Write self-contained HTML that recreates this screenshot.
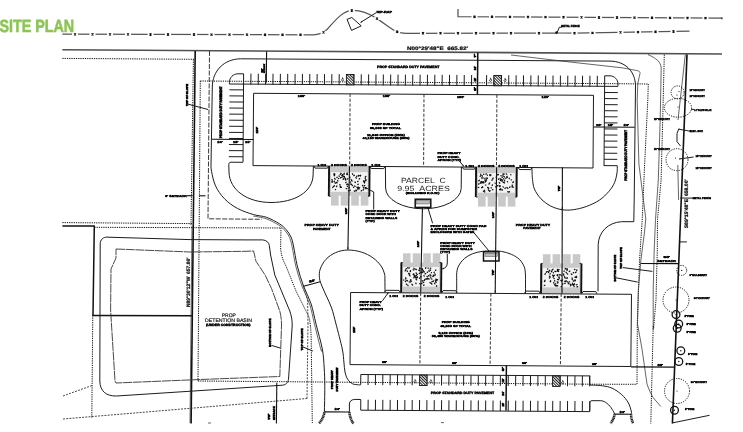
<!DOCTYPE html>
<html lang="en">
<head>
<meta charset="utf-8">
<title>Site Plan</title>
<style>
html,body{margin:0;padding:0;background:#fff;}
body{width:743px;height:432px;overflow:hidden;font-family:"Liberation Sans",sans-serif;}
svg{display:block;will-change:transform;}
text{font-family:"Liberation Sans",sans-serif;text-rendering:geometricPrecision;}
.ttl{font-family:"Liberation Sans",sans-serif;font-weight:700;}
.t{fill:#000;font-weight:700;stroke:#000;stroke-width:1.6;}
.r{stroke-width:2.4;}
.w{fill:#fff;stroke:none;}
.n{font-weight:700;stroke:#111;stroke-width:.9;}
.p{font-weight:400;fill:#222;stroke:none;}
.p2{font-weight:400;fill:#111;stroke:#111;stroke-width:.7;}
.l{fill:none;stroke:#1c1c1c;stroke-width:1;}
.thin{fill:none;stroke:#333;stroke-width:.75;}
.m{fill:none;stroke:#111;stroke-width:1.1;}
.b{fill:none;stroke:#505050;stroke-width:1.6;}
.k{fill:none;stroke:#111;stroke-width:1.6;}
.k2{fill:none;stroke:#111;stroke-width:1.5;}
.g{fill:none;stroke:#555;stroke-width:1.25;}
.x{fill:none;stroke:#111;stroke-width:1.25;}
.a{fill:#111;stroke:none;}
.dot{fill:#111;stroke:none;}
.dt{fill:none;stroke:#111;stroke-width:1;stroke-dasharray:1.25 1;}
.ds{fill:none;stroke:#222;stroke-width:.9;stroke-dasharray:5 1.5;}
.ds3{fill:none;stroke:#222;stroke-width:.9;stroke-dasharray:2.6 1;}
.ds2{fill:none;stroke:#333;stroke-width:.9;stroke-dasharray:2 1.2;}
.dd{fill:none;stroke:#222;stroke-width:.9;stroke-dasharray:3.2 1.6;}
.ddv{fill:none;stroke:#333;stroke-width:.9;stroke-dasharray:6 1 1 1;}
.bi{fill:none;stroke:#333;stroke-width:.9;stroke-dasharray:9 .7;}
.hb{fill:none;stroke:#222;stroke-width:2.6;stroke-dasharray:1.2 .4;}
.hc{fill:none;stroke:#111;stroke-width:.8;}
.ring{fill:none;stroke:#111;stroke-width:1.3;}
.dc{fill:none;stroke:#111;stroke-width:1;stroke-dasharray:1.2 1.2;}
.tr{fill:#c9c9c9;stroke:none;}
.st{fill:#f4f4f4;stroke:none;}
.st2{fill:#bbb;stroke:#333;stroke-width:.4;}
.sp{fill:none;stroke:#111;stroke-width:1.25;stroke-linecap:round;}
.kw{fill:none;stroke:#111;stroke-width:1.9;}
</style>
</head>
<body>
<svg width="743" height="432" viewBox="0 0 743 432">
<defs>
<pattern id="hz" width="2" height="2" patternUnits="userSpaceOnUse" patternTransform="rotate(-45)">
<rect width="2" height="2" fill="#fff"/><rect width="1" height="2" fill="#222"/>
</pattern>
</defs>
<rect width="743" height="432" fill="#fff"/>
<text x="-0.6" y="31.8" font-size="17.6" font-weight="700" fill="#8cc455" stroke="#8cc455" stroke-width="0.55" textLength="74.8" lengthAdjust="spacingAndGlyphs" class="ttl">SITE PLAN</text>
<path class="g" d="M62.4,34.2 L313,34.8 C319,34.7 323.5,33 327,29.5 C334,22 342,11 351.8,10.4 C361,10 369,13.5 377,18.6 C386,24.5 392,30 397.2,31.8 C400,32.8 403,33.2 406,33.3 L557,33.0"/>
<rect class="w" x="72" y="32.83" width="6" height="3"/>
<path class="x" d="M74,33.33L76,35.33M74,35.33L76,33.33"/>
<rect class="w" x="89.5" y="32.86" width="6" height="3"/>
<path class="x" d="M91.5,33.36L93.5,35.36M91.5,35.36L93.5,33.36"/>
<rect class="w" x="107" y="32.9" width="6" height="3"/>
<path class="x" d="M109,33.4L111,35.4M109,35.4L111,33.4"/>
<rect class="w" x="125" y="32.93" width="6" height="3"/>
<path class="x" d="M127,33.43L129,35.43M127,35.43L129,33.43"/>
<rect class="w" x="147.5" y="32.98" width="6" height="3"/>
<path class="x" d="M149.5,33.48L151.5,35.48M149.5,35.48L151.5,33.48"/>
<rect class="w" x="165" y="33.01" width="6" height="3"/>
<path class="x" d="M167,33.51L169,35.51M167,35.51L169,33.51"/>
<rect class="w" x="191" y="33.06" width="6" height="3"/>
<path class="x" d="M193,33.56L195,35.56M193,35.56L195,33.56"/>
<rect class="w" x="208.5" y="33.1" width="6" height="3"/>
<path class="x" d="M210.5,33.6L212.5,35.6M210.5,35.6L212.5,33.6"/>
<rect class="w" x="226.5" y="33.13" width="6" height="3"/>
<path class="x" d="M228.5,33.63L230.5,35.63M228.5,35.63L230.5,33.63"/>
<rect class="w" x="244" y="33.17" width="6" height="3"/>
<path class="x" d="M246,33.67L248,35.67M246,35.67L248,33.67"/>
<rect class="w" x="262" y="33.21" width="6" height="3"/>
<path class="x" d="M264,33.71L266,35.71M264,35.71L266,33.71"/>
<rect class="w" x="279.5" y="33.24" width="6" height="3"/>
<path class="x" d="M281.5,33.74L283.5,35.74M281.5,35.74L283.5,33.74"/>
<rect class="w" x="297.5" y="33.28" width="6" height="3"/>
<path class="x" d="M299.5,33.78L301.5,35.78M299.5,35.78L301.5,33.78"/>
<rect class="w" x="320.5" y="30.9" width="6" height="3"/>
<path class="x" d="M322.5,31.4L324.5,33.4M322.5,33.4L324.5,31.4"/>
<rect class="w" x="348.8" y="9" width="6" height="3"/>
<path class="x" d="M350.8,9.5L352.8,11.5M350.8,11.5L352.8,9.5"/>
<rect class="w" x="374" y="17.1" width="6" height="3"/>
<path class="x" d="M376,17.6L378,19.6M376,19.6L378,17.6"/>
<rect class="w" x="394.2" y="30.2" width="6" height="3"/>
<path class="x" d="M396.2,30.7L398.2,32.7M396.2,32.7L398.2,30.7"/>
<rect class="w" x="420" y="31.7" width="6" height="3"/>
<path class="x" d="M422,32.2L424,34.2M422,34.2L424,32.2"/>
<rect class="w" x="437.5" y="31.7" width="6" height="3"/>
<path class="x" d="M439.5,32.2L441.5,34.2M439.5,34.2L441.5,32.2"/>
<rect class="w" x="455" y="31.7" width="6" height="3"/>
<path class="x" d="M457,32.2L459,34.2M457,34.2L459,32.2"/>
<rect class="w" x="473" y="31.7" width="6" height="3"/>
<path class="x" d="M475,32.2L477,34.2M475,34.2L477,32.2"/>
<rect class="w" x="490.5" y="31.7" width="6" height="3"/>
<path class="x" d="M492.5,32.2L494.5,34.2M492.5,34.2L494.5,32.2"/>
<rect class="w" x="508" y="31.7" width="6" height="3"/>
<path class="x" d="M510,32.2L512,34.2M510,34.2L512,32.2"/>
<rect class="w" x="536" y="31.7" width="6" height="3"/>
<path class="x" d="M538,32.2L540,34.2M538,34.2L540,32.2"/>
<path class="l" d="M347,19.4 L351.8,17.5 L361.2,25.9 L351.5,30.4 Z"/>
<line class="l" x1="360.6" y1="22.4" x2="376" y2="12.8"/>
<polygon class="a" points="360.2,22.7 361.74,21.01 362.39,22.06"/>
<text class="t" font-size="12" textLength="62" lengthAdjust="spacingAndGlyphs" transform="translate(376.5 13) scale(.25)">RIP-RAP</text>
<path class="g" d="M557,33 L575,33.2 L689.5,31.2"/>
<rect class="w" x="571.5" y="31.71" width="6" height="3"/>
<path class="x" d="M573.5,32.21L575.5,34.21M573.5,34.21L575.5,32.21"/>
<rect class="w" x="589.5" y="31.39" width="6" height="3"/>
<path class="x" d="M591.5,31.89L593.5,33.89M591.5,33.89L593.5,31.89"/>
<rect class="w" x="617.5" y="30.9" width="6" height="3"/>
<path class="x" d="M619.5,31.4L621.5,33.4M619.5,33.4L621.5,31.4"/>
<rect class="w" x="635" y="30.6" width="6" height="3"/>
<path class="x" d="M637,31.1L639,33.1M637,33.1L639,31.1"/>
<rect class="w" x="652.5" y="30.29" width="6" height="3"/>
<path class="x" d="M654.5,30.79L656.5,32.79M654.5,32.79L656.5,30.79"/>
<rect class="w" x="670.5" y="29.98" width="6" height="3"/>
<path class="x" d="M672.5,30.48L674.5,32.48M672.5,32.48L674.5,30.48"/>
<circle class="dot" cx="556.6" cy="32.6" r="1.3"/>
<path class="l" d="M557,33 L559.3,27.3 L562,27"/>
<text class="t" font-size="11.6" textLength="74" lengthAdjust="spacingAndGlyphs" transform="translate(561.3 27) scale(.25)">METAL FENCE</text>
<path class="g" d="M458,9 L458,16.6 L722,18.2"/>
<rect class="w" x="471.5" y="15.2" width="6" height="3"/>
<path class="x" d="M473.5,15.7L475.5,17.7M473.5,17.7L475.5,15.7"/>
<rect class="w" x="489" y="15.3" width="6" height="3"/>
<path class="x" d="M491,15.8L493,17.8M491,17.8L493,15.8"/>
<rect class="w" x="507" y="15.41" width="6" height="3"/>
<path class="x" d="M509,15.91L511,17.91M509,17.91L511,15.91"/>
<rect class="w" x="525" y="15.52" width="6" height="3"/>
<path class="x" d="M527,16.02L529,18.02M527,18.02L529,16.02"/>
<rect class="w" x="542.5" y="15.62" width="6" height="3"/>
<path class="x" d="M544.5,16.12L546.5,18.12M544.5,18.12L546.5,16.12"/>
<rect class="w" x="560.5" y="15.73" width="6" height="3"/>
<path class="x" d="M562.5,16.23L564.5,18.23M562.5,18.23L564.5,16.23"/>
<rect class="w" x="578.5" y="15.84" width="6" height="3"/>
<path class="x" d="M580.5,16.34L582.5,18.34M580.5,18.34L582.5,16.34"/>
<rect class="w" x="596" y="15.95" width="6" height="3"/>
<path class="x" d="M598,16.45L600,18.45M598,18.45L600,16.45"/>
<rect class="w" x="614" y="16.05" width="6" height="3"/>
<path class="x" d="M616,16.55L618,18.55M616,18.55L618,16.55"/>
<rect class="w" x="631.5" y="16.16" width="6" height="3"/>
<path class="x" d="M633.5,16.66L635.5,18.66M633.5,18.66L635.5,16.66"/>
<rect class="w" x="649" y="16.26" width="6" height="3"/>
<path class="x" d="M651,16.76L653,18.76M651,18.76L653,16.76"/>
<rect class="w" x="667" y="16.37" width="6" height="3"/>
<path class="x" d="M669,16.87L671,18.87M669,18.87L671,16.87"/>
<rect class="w" x="684.5" y="16.48" width="6" height="3"/>
<path class="x" d="M686.5,16.98L688.5,18.98M686.5,18.98L688.5,16.98"/>
<rect class="w" x="702.5" y="16.59" width="6" height="3"/>
<path class="x" d="M704.5,17.09L706.5,19.09M704.5,19.09L706.5,17.09"/>
<line class="l" x1="722" y1="17.2" x2="722" y2="19.3"/>
<line class="b" x1="62.4" y1="49.8" x2="722" y2="54"/>
<text class="t n" font-size="20" textLength="244" lengthAdjust="spacingAndGlyphs" transform="translate(407 50.4) scale(.25)">N00°29'48&quot;E  665.82'</text>
<line class="dt" x1="62.4" y1="58.4" x2="194" y2="59.3"/>
<line class="k" x1="195.2" y1="51" x2="191.1" y2="423.5"/>
<line class="dt" x1="193.4" y1="59.3" x2="191" y2="226"/>
<line class="thin" x1="192" y1="226" x2="190" y2="423"/>
<path class="ds" d="M209.5,51 L208.0,218.8 L261.7,219.3"/>
<line class="dt" x1="200.3" y1="81" x2="198" y2="381"/>
<line class="dt" x1="200.3" y1="81" x2="617" y2="83.7"/>
<line class="dt" x1="617" y1="83.7" x2="648.3" y2="84"/>
<path class="dt" d="M648.3,84 L647.8,100 L644.4,169.4 L642.2,220 L639.5,261 L637.3,324 L637,384"/>
<line class="dt" x1="198" y1="381" x2="589.5" y2="384.2"/>
<line class="dt" x1="589.5" y1="384.2" x2="637" y2="384.3"/>
<line class="dt" x1="62.4" y1="222.6" x2="192.5" y2="223.6"/>
<line class="dt" x1="94.3" y1="227.3" x2="281" y2="228"/>
<line class="k2" x1="62.4" y1="226" x2="94.9" y2="226.1"/>
<line class="k2" x1="94.3" y1="226.1" x2="93" y2="315.6"/>
<line class="k2" x1="92.4" y1="315.6" x2="191.8" y2="315.7"/>
<line class="dt" x1="92.8" y1="315.3" x2="91.8" y2="417.6"/>
<line class="ds2" x1="63" y1="396" x2="92" y2="385.5"/>
<line class="ds2" x1="63" y1="419" x2="307" y2="398.5"/>
<line class="ds2" x1="307" y1="398.5" x2="308" y2="324"/>
<path class="ds2" d="M308,324 L307.6,300 L303,285"/>
<path class="dt" d="M281,227.8 L280.6,248 C281.5,258 284,262 286,266 L296,291 L308.5,316 C310.5,322 311,330 311.2,340 L312.3,423"/>
<path class="l" d="M108,237.2 L190,239.6 L246,239.9 L262.7,239.9 C266.5,240.2 269,242.5 269.3,245.6 L270.6,255 L274.8,275 L289.8,311 C291.5,316 292.3,320 292.2,326 L288.6,378 C288.3,383 286,385.2 281,385.3 L186,391.5 L116.5,396 C106,396.3 100,391 99.8,381 L100.2,244 C100.3,239.5 103,237 108,237 Z"/>
<path class="bi" d="M116,249 L190,252 L246,251.3 L253.6,251 L256,261.3 L265.1,275 L271.5,288.5 L279.8,311 C281,316 281.6,320 281.5,326 L279.8,376.5 L198,379.6 L116,383 L115,381 L110.6,310 L111,269 L116,258 Z"/>
<text class="t p2" font-size="20.4" text-anchor="middle" textLength="56" lengthAdjust="spacingAndGlyphs" transform="translate(228.8 316.7) scale(.25)">PROP</text>
<text class="t p2" font-size="20.4" text-anchor="middle" textLength="188" lengthAdjust="spacingAndGlyphs" transform="translate(228.5 321.9) scale(.25)">DETENTION BASIN</text>
<text class="t" font-size="12.8" text-anchor="middle" textLength="178" lengthAdjust="spacingAndGlyphs" transform="translate(228.2 325.6) scale(.25)">(UNDER CONSTRUCTION)</text>
<text class="t n" font-size="20" textLength="197.6" lengthAdjust="spacingAndGlyphs" transform="translate(190 307) rotate(-90) scale(.25)">N89°30'12&quot;W  657.86'</text>
<text class="t r" font-size="11.2" textLength="113.6" lengthAdjust="spacingAndGlyphs" transform="translate(270.8 347) rotate(-90) scale(.25)">BOTTOM OF SLOPE</text>
<line class="l" x1="271.5" y1="345.4" x2="280.4" y2="348.1"/>
<text class="t r" font-size="11.2" textLength="88" lengthAdjust="spacingAndGlyphs" transform="translate(302.5 350.4) rotate(-90) scale(.25)">TOP OF SLOPE</text>
<line class="l" x1="303" y1="347" x2="312.9" y2="351"/>
<line class="m" x1="276.8" y1="382.8" x2="276.4" y2="423.5"/>
<text class="t r" font-size="11.2" textLength="24" lengthAdjust="spacingAndGlyphs" transform="translate(269.8 419.7) rotate(-90) scale(.25)">75'</text>
<text class="t r" font-size="11.2" textLength="55.2" lengthAdjust="spacingAndGlyphs" transform="translate(274.9 420.1) rotate(-90) scale(.25)">SETBACK</text>
<text class="t r" font-size="10.8" textLength="88" lengthAdjust="spacingAndGlyphs" transform="translate(188.4 106) rotate(-90) scale(.25)">TOP OF SLOPE</text>
<line class="l" x1="187.5" y1="104" x2="208" y2="109.5"/>
<text class="t" font-size="11.2" textLength="86" lengthAdjust="spacingAndGlyphs" transform="translate(165.3 196.7) scale(.25)">5' SETBACK</text>
<line class="m" x1="187" y1="195.7" x2="192.6" y2="195.7"/>
<line class="m" x1="199.3" y1="195.8" x2="205.5" y2="195.8"/>
<path class="l" d="M610,61.1 L240.7,58.8 C224,58.9 212.4,71 212.3,87 L211,165"/>
<path class="hb" d="M324.4,412.2 C323.8,416.5 321.8,420.5 318.8,423.5"/>
<path class="l" d="M211,165 C211.08,166.03 210.75,167.73 211.5,171.2 C212.25,174.67 213.35,181.22 215.5,185.8 C217.65,190.38 220.75,194.93 224.4,198.7 C228.05,202.47 232.53,205.75 237.4,208.4 C242.27,211.05 248.75,213.12 253.6,214.6 C258.45,216.08 262.18,215.77 266.5,217.3 C270.82,218.83 276.2,221.72 279.5,223.8 C282.8,225.88 284.38,227.6 286.3,229.8 C288.22,232 289.8,234.3 291,237 C292.2,239.7 292.45,241.17 293.5,246 C294.55,250.83 295.63,259.33 297.3,266 C298.97,272.67 301.22,279.75 303.5,286 C305.78,292.25 308.92,297.17 311,303.5 C313.08,309.83 314.12,316.42 316,324 C317.88,331.58 320.93,341.67 322.3,349 C323.67,356.33 323.78,361.75 324.2,368 C324.62,374.25 324.77,379.17 324.8,386.5 C324.83,393.83 324.47,407.75 324.4,412"/>
<path class="thin" d="M253.29,216.07 C255.41,216.51 261.76,217.21 266,218.71 C270.23,220.21 275.5,223.06 278.7,225.07 C281.89,227.08 283.35,228.7 285.17,230.79 C286.99,232.88 288.49,235.02 289.63,237.61 C290.77,240.2 291,241.53 292.03,246.32 C293.07,251.11 294.17,259.66 295.84,266.36 C297.52,273.06 299.8,280.25 302.09,286.51 C304.38,292.78 307.5,297.66 309.58,303.97 C311.65,310.28 312.67,316.8 314.54,324.36 C316.42,331.93 319.6,345.18 320.85,349.37 C322.09,353.56 321.81,349.48 322,349.5"/>
<path class="l" d="M610,61.1 C626,61.3 635.4,72 635.5,86 L634.2,200 L633.8,221.7 L621.5,221.7 C608,222.5 598.6,232 598.2,244.7 L598,291.3"/>
<path class="thin" d="M511,55 L570,62 L622,67.8 L636.7,70.5 C639.5,71 640.3,72 640,73.5 L637.8,83.3 L637.2,100 L638.9,164 L645.8,219 L644.5,232 L640.8,261 L638.3,291 L637.5,324 L642,349 L647,384 C649,390 651,394 653.3,397.8 L660.8,406.5"/>
<path class="l" d="M243.0,162 L243.6,73.8 L238,73.8 C233,73.9 229.5,77.5 229.4,82.5 L229.4,84"/>
<path class="l" d="M604.0,166 L604.7,75.8 L610,75.8 C614.5,76 618,79.5 618,84 L618,86.1"/>
<line class="l" x1="229.4" y1="84" x2="618" y2="86.4"/>
<line class="l" x1="250.95" y1="73.65" x2="250.86" y2="84.55"/>
<line class="l" x1="258.31" y1="73.69" x2="258.22" y2="84.59"/>
<line class="l" x1="265.67" y1="73.74" x2="265.58" y2="84.64"/>
<line class="l" x1="273.02" y1="73.78" x2="272.93" y2="84.68"/>
<line class="l" x1="280.38" y1="73.83" x2="280.29" y2="84.73"/>
<line class="l" x1="287.73" y1="73.87" x2="287.64" y2="84.77"/>
<line class="l" x1="295.08" y1="73.92" x2="295" y2="84.82"/>
<line class="l" x1="302.44" y1="73.96" x2="302.35" y2="84.86"/>
<line class="l" x1="309.8" y1="74.01" x2="309.71" y2="84.91"/>
<line class="l" x1="317.15" y1="74.06" x2="317.06" y2="84.96"/>
<line class="l" x1="324.5" y1="74.1" x2="324.42" y2="85"/>
<line class="l" x1="331.86" y1="74.15" x2="331.77" y2="85.05"/>
<line class="l" x1="339.22" y1="74.19" x2="339.13" y2="85.09"/>
<line class="l" x1="353.93" y1="74.28" x2="353.84" y2="85.18"/>
<line class="l" x1="361.28" y1="74.33" x2="361.19" y2="85.23"/>
<line class="l" x1="368.63" y1="74.38" x2="368.55" y2="85.28"/>
<line class="l" x1="375.99" y1="74.42" x2="375.9" y2="85.32"/>
<line class="l" x1="383.35" y1="74.47" x2="383.26" y2="85.37"/>
<line class="l" x1="390.7" y1="74.51" x2="390.61" y2="85.41"/>
<line class="l" x1="398.06" y1="74.56" x2="397.97" y2="85.46"/>
<line class="l" x1="405.41" y1="74.6" x2="405.32" y2="85.5"/>
<line class="l" x1="412.76" y1="74.65" x2="412.68" y2="85.55"/>
<line class="l" x1="420.12" y1="74.69" x2="420.03" y2="85.59"/>
<line class="l" x1="427.48" y1="74.74" x2="427.39" y2="85.64"/>
<line class="l" x1="434.83" y1="74.79" x2="434.74" y2="85.69"/>
<line class="l" x1="442.19" y1="74.83" x2="442.1" y2="85.73"/>
<line class="l" x1="449.54" y1="74.88" x2="449.45" y2="85.78"/>
<line class="l" x1="456.89" y1="74.92" x2="456.81" y2="85.82"/>
<line class="l" x1="464.25" y1="74.97" x2="464.16" y2="85.87"/>
<line class="l" x1="471.61" y1="75.01" x2="471.52" y2="85.91"/>
<line class="l" x1="597.32" y1="75.79" x2="597.23" y2="86.69"/>
<line class="l" x1="589.94" y1="75.75" x2="589.85" y2="86.65"/>
<line class="l" x1="582.56" y1="75.7" x2="582.47" y2="86.6"/>
<line class="l" x1="575.18" y1="75.66" x2="575.09" y2="86.56"/>
<line class="l" x1="567.8" y1="75.61" x2="567.71" y2="86.51"/>
<line class="l" x1="560.42" y1="75.56" x2="560.33" y2="86.46"/>
<line class="l" x1="553.04" y1="75.52" x2="552.95" y2="86.42"/>
<line class="l" x1="545.66" y1="75.47" x2="545.57" y2="86.37"/>
<line class="l" x1="538.28" y1="75.43" x2="538.19" y2="86.33"/>
<line class="l" x1="530.9" y1="75.38" x2="530.81" y2="86.28"/>
<line class="l" x1="523.52" y1="75.34" x2="523.43" y2="86.24"/>
<line class="l" x1="516.14" y1="75.29" x2="516.05" y2="86.19"/>
<line class="l" x1="508.76" y1="75.24" x2="508.67" y2="86.14"/>
<line class="l" x1="501.38" y1="75.2" x2="501.29" y2="86.1"/>
<line class="l" x1="494" y1="75.15" x2="493.91" y2="86.05"/>
<line class="l" x1="486.62" y1="75.11" x2="486.53" y2="86.01"/>
<rect x="346.4" y="74.53" width="7.4" height="10.3" fill="url(#hz)" stroke="#111" stroke-width="0.9"/>
<rect x="494" y="75.45" width="7.4" height="10.3" fill="url(#hz)" stroke="#111" stroke-width="0.9"/>
<path class="hc" d="M342.5,77.4v1.6h1.3M341.9,79.2a1,1 0 1 0 1.6,0.6"/>
<path class="hc" d="M490.5,77.8v1.6h1.3M489.9,79.6a1,1 0 1 0 1.6,0.6"/>
<path class="hc" d="M505,77.9v1.6h1.3M504.4,79.7a1,1 0 1 0 1.6,0.6"/>
<line class="l" x1="229.44" y1="89.8" x2="243.54" y2="89.89"/>
<line class="l" x1="229.38" y1="95.88" x2="243.48" y2="95.97"/>
<line class="l" x1="229.33" y1="101.96" x2="243.43" y2="102.05"/>
<line class="l" x1="229.27" y1="108.04" x2="243.37" y2="108.13"/>
<line class="l" x1="229.22" y1="114.12" x2="243.32" y2="114.21"/>
<line class="l" x1="229.17" y1="120.2" x2="243.27" y2="120.29"/>
<line class="l" x1="229.11" y1="126.28" x2="243.21" y2="126.37"/>
<line class="l" x1="229.06" y1="132.36" x2="243.16" y2="132.45"/>
<line class="l" x1="229" y1="138.44" x2="243.1" y2="138.53"/>
<line class="l" x1="228.95" y1="144.52" x2="243.05" y2="144.61"/>
<line class="l" x1="228.89" y1="150.6" x2="242.99" y2="150.69"/>
<line class="l" x1="228.84" y1="156.68" x2="242.94" y2="156.77"/>
<line class="l" x1="604.61" y1="92.5" x2="617.81" y2="92.59"/>
<line class="l" x1="604.56" y1="98.57" x2="617.76" y2="98.66"/>
<line class="l" x1="604.51" y1="104.64" x2="617.71" y2="104.73"/>
<line class="l" x1="604.45" y1="110.71" x2="617.65" y2="110.8"/>
<line class="l" x1="604.4" y1="116.78" x2="617.6" y2="116.87"/>
<line class="l" x1="604.34" y1="122.85" x2="617.54" y2="122.94"/>
<line class="l" x1="604.29" y1="128.92" x2="617.49" y2="129.01"/>
<line class="l" x1="604.23" y1="134.99" x2="617.43" y2="135.08"/>
<line class="l" x1="604.18" y1="141.06" x2="617.38" y2="141.15"/>
<line class="l" x1="604.12" y1="147.13" x2="617.32" y2="147.22"/>
<line class="l" x1="604.07" y1="153.2" x2="617.27" y2="153.29"/>
<line class="l" x1="604.01" y1="159.27" x2="617.21" y2="159.36"/>
<line class="l" x1="604" y1="165.6" x2="617.2" y2="165.7"/>
<path class="l" d="M243,162.3 L231,162.2 C229.5,162.3 228.8,163 228.8,164.5 L229,172 C229.5,190 247,202.4 271,202.5 C295,202.4 312.6,192 313.1,175 L313.4,166"/>
<path class="l" d="M532,167.3 C532.02,168.25 532.02,171 532.1,173 C532.18,175 532.12,176.63 532.5,179.3 C532.88,181.97 533,185.77 534.4,189 C535.8,192.23 538.2,195.87 540.9,198.7 C543.6,201.53 547.08,204.17 550.6,206 C554.12,207.83 558.22,209.08 562,209.7 C565.78,210.32 569.25,210.23 573.3,209.7 C577.35,209.17 581.98,208.07 586.3,206.5 C590.62,204.93 595.43,202.82 599.2,200.3 C602.97,197.78 606.33,194.37 608.9,191.4 C611.47,188.43 613.25,185.6 614.6,182.5 C615.95,179.4 616.55,175.62 617,172.8 C617.45,169.98 617.25,166.8 617.3,165.6"/>
<line class="m" x1="212" y1="139.2" x2="253.5" y2="139.5"/>
<text class="t" font-size="11.2" text-anchor="middle" textLength="22" lengthAdjust="spacingAndGlyphs" transform="translate(220 143.2) scale(.25)">24'</text>
<text class="t" font-size="11.2" text-anchor="middle" textLength="22" lengthAdjust="spacingAndGlyphs" transform="translate(235.8 143.3) scale(.25)">18'</text>
<text class="t" font-size="11.2" text-anchor="middle" textLength="22" lengthAdjust="spacingAndGlyphs" transform="translate(247.7 143.4) scale(.25)">10'</text>
<line class="m" x1="593.3" y1="127" x2="634.7" y2="127.3"/>
<text class="t" font-size="11.2" text-anchor="middle" textLength="22" lengthAdjust="spacingAndGlyphs" transform="translate(598.8 125.5) scale(.25)">10'</text>
<text class="t" font-size="11.2" text-anchor="middle" textLength="22" lengthAdjust="spacingAndGlyphs" transform="translate(610.5 125.6) scale(.25)">18'</text>
<text class="t" font-size="11.2" text-anchor="middle" textLength="22" lengthAdjust="spacingAndGlyphs" transform="translate(626.2 125.7) scale(.25)">24'</text>
<line class="m" x1="266.6" y1="51.2" x2="266.3" y2="82.5"/>
<text class="t r" font-size="10" textLength="16" lengthAdjust="spacingAndGlyphs" transform="translate(262.6 72.5) rotate(-90) scale(.25)">30'</text>
<text class="t r" font-size="8.8" textLength="36" lengthAdjust="spacingAndGlyphs" transform="translate(265.2 73) rotate(-90) scale(.25)">SETBACK</text>
<text class="t r" font-size="14" textLength="207.2" lengthAdjust="spacingAndGlyphs" transform="translate(221.6 138.2) rotate(-90) scale(.25)">PROP STANDARD DUTY PAVEMENT</text>
<text class="t r" font-size="14" textLength="203.2" lengthAdjust="spacingAndGlyphs" transform="translate(627.3 180.8) rotate(-90) scale(.25)">PROP STANDARD DUTY PAVEMENT</text>
<text class="t" font-size="13.2" textLength="250" lengthAdjust="spacingAndGlyphs" transform="translate(377 68.3) scale(.25)">PROP STANDARD DUTY PAVEMENT</text>
<line class="k2" x1="477.8" y1="52.4" x2="477.4" y2="94.8"/>
<text class="t r" font-size="11.2" textLength="14.4" lengthAdjust="spacingAndGlyphs" transform="translate(475.6 57.5) rotate(-90) scale(.25)">7'</text>
<text class="t r" font-size="11.2" textLength="14.4" lengthAdjust="spacingAndGlyphs" transform="translate(475.6 70) rotate(-90) scale(.25)">24'</text>
<text class="t r" font-size="11.2" textLength="14.4" lengthAdjust="spacingAndGlyphs" transform="translate(475.6 81.5) rotate(-90) scale(.25)">18'</text>
<text class="t r" font-size="11.2" textLength="14.4" lengthAdjust="spacingAndGlyphs" transform="translate(475.6 90.8) rotate(-90) scale(.25)">8'</text>
<path class="l" d="M253.6,93.3 L593.5,95.3 L593.0,168.0 L253.0,165.6 Z"/>
<line class="dd" x1="350.1" y1="93.9" x2="349.7" y2="165.9"/>
<line class="dd" x1="424" y1="94.4" x2="423.6" y2="166.4"/>
<line class="dd" x1="496.9" y1="94.8" x2="496.5" y2="166.8"/>
<text class="t" font-size="11.2" text-anchor="middle" textLength="29.2" lengthAdjust="spacingAndGlyphs" transform="translate(301.5 96.61) scale(.25)">100'</text>
<text class="t" font-size="11.2" text-anchor="middle" textLength="29.2" lengthAdjust="spacingAndGlyphs" transform="translate(386.5 97.14) scale(.25)">100'</text>
<text class="t" font-size="11.2" text-anchor="middle" textLength="29.2" lengthAdjust="spacingAndGlyphs" transform="translate(460.6 97.6) scale(.25)">100'</text>
<text class="t" font-size="11.2" text-anchor="middle" textLength="29.2" lengthAdjust="spacingAndGlyphs" transform="translate(545.2 98.12) scale(.25)">120'</text>
<text class="t r" font-size="11.2" textLength="24.8" lengthAdjust="spacingAndGlyphs" transform="translate(258 133.2) rotate(-90) scale(.25)">150'</text>
<text class="t" font-size="11.2" text-anchor="middle" textLength="112" lengthAdjust="spacingAndGlyphs" transform="translate(385.9 125.4) scale(.25)">PROP BUILDING</text>
<text class="t" font-size="11.2" text-anchor="middle" textLength="124" lengthAdjust="spacingAndGlyphs" transform="translate(385.5 129.1) scale(.25)">55,000 SF TOTAL</text>
<text class="t" font-size="11.2" text-anchor="middle" textLength="150.8" lengthAdjust="spacingAndGlyphs" transform="translate(385.8 135.6) scale(.25)">11,040 OFFICE (20%)</text>
<text class="t" font-size="11.2" text-anchor="middle" textLength="188" lengthAdjust="spacingAndGlyphs" transform="translate(386 139.4) scale(.25)">44,160 WAREHOUSE (80%)</text>
<rect class="tr" x="331" y="166" width="7.6" height="39.6"/>
<rect class="tr" x="340.7" y="166" width="7.6" height="39.6"/>
<rect class="tr" x="351.2" y="166" width="7.6" height="39.6"/>
<rect class="tr" x="360.8" y="166" width="7.6" height="39.6"/>
<rect class="tr" x="329.9" y="166" width="38.9" height="29.7"/>
<rect class="st" x="331" y="172.2" width="36.7" height="19.6"/>
<path class="sp" d="M342.94,175.72l-0.49,-0.59M344.39,174.04l-0.4,0.15M334.12,174.63l-0.35,-0.67M351.73,180.14l-0.69,-0.43M341.75,175.6l0.17,-0.44M335.28,183.28l-0.21,-0.43M351.28,184.14l0.4,0.57M352.02,181.16l-0.28,-0.52M334.54,178.4l0.4,0.54M352.83,174.32l-0.41,-0.55M364.08,180.59l-0.68,0.56M343.5,179.3l0.4,-0.14M364.48,181.53l-0.5,0.54M354.16,190.88l0.59,0.53M332.48,181.31l-0.2,-0.4M358.36,175.33l0.25,0.65M334.5,181.09l-0.43,0.59M356.21,190.76l0.51,-0.67M334.58,175.72l-0.5,-0.39M340.82,173.07l0.35,0.47M364.77,185.43l-0.41,0.37M345.51,180.09l0.39,-0.14M365.87,180.93l-0.17,-0.16M350.32,190.08l-0.47,0.62M336.85,177.54l0.31,-0.38M361.16,190.88l0.38,-0.29M335.25,179.17l-0.26,-0.41M364.7,182.51l-0.19,0.55M365.65,188.54l0.52,-0.41M344.04,177.01l0.42,-0.48M359.67,187.73l-0.54,0.22M344.04,173.52l0.12,-0.38M355.73,190.22l0.37,0.67M334.49,174.84l0.38,-0.22M348.34,184.75l-0.58,-0.6M363.27,187.08l0.55,0.63M359.08,178.99l0.58,-0.38M356.85,176.06l-0.18,0.45M359.69,175.63l0.6,0.49M337.11,182.87l-0.11,-0.42M346.75,188.69l-0.6,-0.12M341.87,177.33l0.45,-0.43M333.81,186.32l0.64,-0.6M350.15,182.42l0.11,-0.57M358.63,175.7l-0.18,0.43M355.38,182.55l-0.39,-0.63M340.32,177.98l0.56,-0.44M347.08,184.03l-0.4,0.52M349.33,187.53l-0.4,0.52M363.72,189.07l0.22,-0.18M345.32,178.69l0.5,0.14M358.9,189.15l0.19,-0.19M365.27,176.95l0.67,-0.63M366.05,187.98l0.2,0.7M343.47,176.52l0.29,0.11M346.98,173.33l0.3,-0.41M335.62,189.53l-0.24,0.15M333.07,187.02l-0.26,0.59M345.79,182.66l0.41,-0.52M341.38,187.39l-0.21,-0.26M353.72,187.43l-0.15,-0.14M347.45,179.1l0.43,-0.47M349.98,177.29l-0.17,-0.26M338.7,178.62l-0.28,-0.27M341.09,187.47l-0.7,-0.11M349.54,177.42l0.37,0.49M365.37,178.54l-0.23,-0.31M345.74,179.26l-0.13,0.11M346.65,174l0.5,0.62M352.48,185.47l-0.13,0.19M331.83,179.55l0.3,0.25M339.26,176.29l-0.3,-0.38M340.31,186.97l-0.15,-0.19M345.37,178.39l-0.48,-0.45M354.52,185.89l0.63,0.56M336.89,186.03l-0.49,0.59M357.16,187.62l-0.18,-0.6M334.65,173.75l-0.48,0.33M351.08,184.3l-0.48,-0.39M347.56,174.26l-0.66,-0.5M357.58,181.53l0.59,-0.24M339.71,184.7l0.38,0.15M358.31,184.11l-0.49,0.46M340.51,186.38l-0.28,-0.11M348.56,190.51l-0.16,0.51M356.3,178.14l-0.38,-0.7M342.52,174.55l0.38,0.38M366.19,179.96l-0.65,-0.14M336.62,182.43l-0.67,0.46M362.47,185.66l0.24,-0.34M331.82,181.85l0.37,0.54M343.64,178.69l-0.6,0.29M360.82,175.16l-0.66,0.64M340.49,174.17l-0.33,0.32M357.92,188.38l-0.27,0.6M353.73,175.68l0.68,-0.41M358.53,187.13l-0.36,0.59M363.4,189.93l-0.43,0.13M347.34,186.55l0.49,-0.39M337.63,180.47l0.27,0.54"/>
<line class="kw" x1="329.1" y1="166" x2="328.83" y2="196.2"/>
<line class="kw" x1="369.6" y1="166" x2="369.33" y2="196.2"/>
<line class="l" x1="329.1" y1="196.2" x2="330.7" y2="196.2"/>
<line class="l" x1="369.6" y1="196.2" x2="368" y2="196.2"/>
<rect class="tr" x="478" y="166.9" width="7.6" height="39.7"/>
<rect class="tr" x="487.7" y="166.9" width="7.6" height="39.7"/>
<rect class="tr" x="498.2" y="166.9" width="7.6" height="39.7"/>
<rect class="tr" x="507.8" y="166.9" width="7.6" height="39.7"/>
<rect class="tr" x="476.9" y="166.9" width="39.1" height="29.7"/>
<rect class="st" x="478" y="173.1" width="36.9" height="19.6"/>
<path class="sp" d="M492.88,178.2l0.39,-0.17M481.32,182.91l-0.59,0.37M513.48,182l-0.18,-0.25M490.63,175.54l0.24,-0.59M509.67,187.39l0.35,-0.55M491.85,179.99l0.14,0.44M483.09,182.96l-0.48,-0.16M492.12,185.52l0.36,-0.61M483.14,181.55l0.56,0.68M478.71,180.95l0.66,-0.68M506.03,177.93l-0.19,0.66M481.67,187.88l-0.1,-0.24M501.23,179.37l0.18,0.42M503.08,175.92l-0.14,-0.33M506.29,173.92l0.42,0.27M501.2,189.81l-0.39,-0.43M512.23,186.58l-0.28,0.22M481.53,178l0.35,-0.24M502.98,186.83l0.32,0.22M504.5,182.99l-0.22,-0.29M486.76,177.89l0.56,0.17M499.99,190.04l-0.39,-0.67M510.88,174.88l-0.11,-0.35M485.13,181.99l0.53,-0.54M511.21,179.83l0.21,0.12M507.99,191.63l-0.37,0.1M481.52,181.46l-0.63,0.33M507.39,181.68l0.13,0.22M485.44,180.46l-0.64,-0.48M507.03,187.7l-0.12,-0.38M487.67,187.35l0.64,0.32M512.12,185.01l0.26,0.65M478.83,187.5l-0.65,-0.11M482.44,186.78l0.38,0.57M507.14,176.29l-0.4,0.58M507.41,187.81l0.46,0.62M491.33,187.98l-0.15,-0.34M487.33,175.07l0.12,0.2M509.53,191.68l-0.26,0.23M496.1,186.68l-0.37,0.18M500.35,186.03l-0.55,0.57M488.95,184.1l0.32,-0.22M485.18,178.14l-0.27,0.3M487.48,178.33l-0.42,-0.49M482.27,182.45l0.59,-0.65M509.3,178.09l-0.13,0.66M496.59,177.1l-0.46,0.16M486.3,180.54l-0.18,-0.7M499.62,185.63l-0.22,0.59M502.37,177.23l-0.29,0.12M497.83,175.04l0.16,-0.5M501.01,175.54l0.2,0.35M502.01,181.42l0.13,-0.35M508.86,191.84l-0.32,0.33M485.81,174.01l0.64,-0.17M492.88,189.79l-0.38,-0.18M497.95,185.43l-0.65,0.44M504.43,176.99l-0.31,-0.41M482.5,182.73l-0.58,-0.28M512.75,182.59l0.13,-0.15M501.05,189.32l-0.47,-0.6M498.43,174.65l-0.66,-0.33M483.92,191.37l-0.59,-0.12M502.01,179.74l0.33,0.43M501.35,179.45l0.25,0.5M496.27,177.12l0.1,0.38M505.35,187.94l-0.37,0.59M482.44,176.21l-0.36,-0.58M480.12,176.24l0.65,-0.57M480.59,182.97l-0.33,-0.12M513.46,187.08l-0.59,0.18M488.75,188.5l-0.58,0.14M500,178.44l0.29,0.64M483.71,182.94l-0.65,-0.46M489.84,174.56l-0.21,0.48M502.42,190.02l0.2,-0.17M500.91,180.38l-0.62,0.25M504.45,180.59l0.33,0.45M490.25,175.36l-0.24,0.28M489.52,191.29l0.62,-0.54M486.44,179.14l0.48,-0.41M483.31,177.99l-0.49,0.13M489.3,183.32l0.42,-0.45M485.83,185.13l-0.38,-0.11M503.39,182.02l-0.14,0.62M492.73,178.66l0.11,0.46M499.71,183.22l-0.4,-0.64M480.85,174.35l-0.21,-0.14M479.13,183.82l-0.66,0.35M507.09,177.04l0.29,0.48M503.67,174.01l0.61,0.15M484.82,191.84l-0.26,0.17M503.54,178.69l0.43,0.51M489.02,190.61l-0.64,-0.63M484.62,190.18l-0.61,0.67M485.4,180.9l0.46,0.64M495.18,183.45l-0.1,-0.36M498.6,179.44l-0.23,-0.44M483.75,174.38l-0.16,-0.31M503.16,174.46l-0.18,-0.52"/>
<line class="kw" x1="476.1" y1="166.9" x2="475.83" y2="197.1"/>
<line class="kw" x1="516.8" y1="166.9" x2="516.53" y2="197.1"/>
<line class="l" x1="476.1" y1="197.1" x2="477.7" y2="197.1"/>
<line class="l" x1="516.8" y1="197.1" x2="515.2" y2="197.1"/>
<rect class="tr" x="403" y="253.3" width="7.6" height="39.5"/>
<rect class="tr" x="412.7" y="253.3" width="7.6" height="39.5"/>
<rect class="tr" x="423.2" y="253.3" width="7.6" height="39.5"/>
<rect class="tr" x="432.8" y="253.3" width="7.6" height="39.5"/>
<rect class="tr" x="401.9" y="262.6" width="38.4" height="29.7"/>
<rect class="st" x="403" y="267" width="36.2" height="19.6"/>
<path class="sp" d="M405.95,278.43l-0.32,0.63M407.36,271.5l-0.17,-0.67M431.92,279.17l-0.27,-0.18M413.77,273.86l0.26,0.25M405.36,281.48l0.65,-0.61M430.69,268.36l-0.41,-0.31M422.1,271.7l-0.62,0.44M409.53,267.82l-0.22,0.1M406.97,280.31l0.6,0.46M423.47,270.66l-0.59,-0.4M435.8,281.6l-0.39,0.48M406.95,284.51l-0.64,-0.35M416.42,273.26l-0.36,-0.33M435.98,270.08l-0.46,0.31M421.54,283.42l0.37,0.2M427.27,272.43l0.24,-0.38M421.06,272.61l-0.55,-0.53M428.43,278.65l-0.31,-0.3M412.55,284.99l-0.7,-0.68M410.38,270.52l0.19,0.54M413.06,269.77l0.65,0.22M419.57,268.03l0.61,0.52M419.54,270.35l0.46,-0.1M434.75,275.54l0.44,-0.61M426.94,279.35l0.37,-0.26M434.3,272.16l-0.34,0.25M420.21,268.15l-0.62,0.64M430.31,274.8l-0.39,-0.12M409.2,281.87l0.66,0.16M422.2,280.71l0.41,0.41M429.08,276.02l-0.69,-0.34M428.64,278.85l0.48,0.26M405.8,269.15l0.65,-0.45M411.38,281.15l-0.66,0.7M419.5,270.76l-0.66,-0.59M419.75,277.92l-0.24,0.31M419.71,273.1l-0.43,0.57M415.83,283.11l0.26,0.51M426.92,276.47l0.58,0.31M414.65,276.53l-0.47,0.5M408.92,273.26l-0.33,0.6M430.51,270.33l-0.6,-0.49M436.25,279.61l-0.25,-0.45M410.05,275.94l-0.57,-0.64M424.55,280.18l-0.69,0.5M410.45,280.27l0.42,-0.5M422.68,272.56l-0.24,-0.38M420.27,284.1l-0.52,-0.4M409.18,273.57l0.52,0.5M416.52,275.34l-0.68,0.21M425.46,268.31l0.47,-0.59M421.16,276.52l-0.64,0.23M425.08,273.89l0.62,-0.3M413.42,273.96l-0.25,0.6M415.85,276.69l0.3,0.62M437.04,279.58l0.58,0.22M408.06,285.31l-0.15,0.34M422.35,268.69l-0.28,0.13M424.52,279.64l0.57,-0.47M410.97,279.81l-0.37,-0.16M433.43,275.39l-0.16,-0.32M430.6,277.92l0.25,-0.21M414.59,275.55l-0.49,-0.4M431.91,281.73l0.35,-0.37M426.95,278.49l-0.7,0.39M422.47,269.29l-0.38,0.48M403.86,280.11l-0.17,-0.23M408.11,268.12l-0.53,-0.37M435.26,274.39l-0.55,-0.54M413.73,277.83l0.4,-0.65M428.23,268.01l-0.11,0.33M428.65,270.79l0.62,0.47M416.27,278.15l-0.36,-0.19M416.12,279.41l0.48,0.39M436.02,281.92l0.44,0.27M433.44,280.86l-0.11,0.46M423.7,285.37l0.25,-0.51M431.32,272.9l0.1,-0.26M423.76,282.49l-0.63,-0.27M431.46,283.41l0.44,0.69M415.56,269.33l0.43,-0.22M414.28,268.84l-0.34,-0.66M430.77,276.07l0.15,-0.56M417.32,277.18l0.26,-0.39M410.17,271.26l0.21,0.32M417.47,277.11l-0.19,0.65M416.49,269.71l-0.48,-0.19M415.5,277.15l-0.11,0.22M423.77,271.64l0.66,0.36M429.94,282.54l0.68,0.61M410.57,271.05l-0.15,0.12M433.48,276.05l-0.67,0.62M435.24,280.51l0.15,-0.44M436.41,279.85l0.34,0.61M436.73,285.65l-0.23,0.67M405.73,277.75l-0.12,0.25M405.61,270.41l-0.55,0.51M423.87,275.74l0.49,0.29M417.04,274.55l0.33,-0.24M434.97,283.86l-0.38,-0.58"/>
<line class="kw" x1="401.1" y1="292.8" x2="401.37" y2="262.6"/>
<line class="kw" x1="441.1" y1="292.8" x2="441.37" y2="262.6"/>
<line class="l" x1="401.1" y1="262.6" x2="402.7" y2="262.6"/>
<line class="l" x1="441.1" y1="262.6" x2="439.5" y2="262.6"/>
<rect class="tr" x="542.9" y="254.2" width="7.6" height="39.4"/>
<rect class="tr" x="552.6" y="254.2" width="7.6" height="39.4"/>
<rect class="tr" x="563.1" y="254.2" width="7.6" height="39.4"/>
<rect class="tr" x="572.7" y="254.2" width="7.6" height="39.4"/>
<rect class="tr" x="541.8" y="263.4" width="38.6" height="29.7"/>
<rect class="st" x="542.9" y="267.8" width="36.4" height="19.6"/>
<path class="sp" d="M575.51,272.57l0.66,-0.63M570.37,285.84l0.66,-0.61M559.16,274.72l0.59,0.17M548.51,272.59l0.13,-0.43M558.7,271.29l-0.35,0.19M563.24,273.94l0.58,0.39M559.29,277.28l-0.19,-0.48M562.86,283.64l-0.17,0.68M577.69,286.57l-0.66,0.33M574.43,269.63l0.54,-0.19M558.81,277.74l0.41,0.1M549.99,276.43l-0.65,-0.27M548.35,271.84l-0.56,-0.22M572.12,284.61l0.54,-0.21M564.67,281.34l0.59,-0.22M567.41,277.95l-0.6,0.41M555.13,283.75l0.62,0.15M574.91,277.18l0.62,0.25M544.86,281.24l-0.44,0.31M576.92,269.88l-0.31,0.59M570.4,284.23l-0.45,-0.27M576.42,277.51l-0.41,-0.11M551.3,271.88l0.16,-0.43M544.27,285.27l0.54,0.11M561.59,281.25l-0.16,-0.53M552.99,276.97l0.45,-0.17M557.55,271.07l-0.46,0.19M569.28,271.56l0.6,-0.52M557.21,285.54l0.57,0.34M568.21,283.77l0.44,-0.59M554.78,271.24l0.51,0.25M566.41,268.81l-0.17,0.14M550.51,280.64l0.24,0.68M565.38,283.17l-0.63,0.12M575.18,279.82l-0.48,0.47M547.79,268.85l-0.24,0.27M555.56,271.61l0.14,-0.15M558.74,277.81l0.63,0.45M551.97,270.18l0.43,-0.47M565.97,272.22l0.53,0.64M564.68,277.04l-0.29,-0.3M561.23,275.5l-0.45,-0.65M573.25,272.89l0.43,-0.26M553.77,282.5l-0.2,0.46M558.74,269.72l0.33,-0.31M561.52,286.41l-0.51,0.35M548.43,272.24l0.47,-0.59M569.01,281.98l0.56,-0.26M557.81,270.46l-0.35,-0.4M557.98,282.71l-0.62,0.33M567.43,273.79l0.31,0.33M565.9,268.72l0.55,0.33M549.94,274.07l0.19,-0.45M571.86,274.54l-0.68,-0.68M577.04,284.64l-0.67,0.13M553.91,278.26l0.29,0.41M557,275.04l0.46,-0.37M566.87,278.05l0.16,-0.4M573.87,285.96l0.39,0.56M567.39,282.04l0.16,-0.29M572.02,277.83l0.17,0.51M565.31,278.03l-0.59,-0.4M557.78,269.68l-0.44,-0.31M567.4,268.79l-0.1,0.65M572.57,279.15l-0.5,0.21M573.57,284.72l-0.41,0.44M564.3,271.22l-0.41,-0.12M549.47,278l0.59,-0.58M565.96,280.92l-0.45,0.53M553.08,269.19l-0.48,0.31M565.07,268.95l0.23,-0.45M558.72,279.76l-0.25,-0.2M554.43,284.78l0.59,0.35M576.62,277.52l-0.67,-0.51M557.82,275.77l-0.53,-0.58M546.61,271.66l-0.33,0.68M557.22,275.13l0.3,-0.3M576.67,276.2l-0.65,0.33M553.36,272.87l-0.12,-0.3M551.92,270.94l-0.22,0.43M572.37,283.09l0.2,0.23M556.57,285.85l0.22,-0.4M573.13,280.76l0.67,0.46M563.81,275.22l-0.25,-0.18M566.92,270.25l0.61,-0.12M554.29,275.62l-0.15,-0.57M554.64,280.53l0.17,0.58M550.23,281.54l0.15,0.18M553.31,275.86l-0.65,-0.66M544.62,280.83l0.5,-0.64M566.27,281.19l0.25,-0.31M549.85,270.67l-0.65,-0.53M557.52,279.55l0.36,-0.19M562.6,279.93l-0.66,0.44M575.44,280.66l-0.45,0.17M574.6,284.35l-0.45,-0.68M544.88,274.33l0.57,-0.55M557.95,281.99l-0.7,-0.27M555.61,285.69l0.37,0.51M561.1,280.78l-0.22,-0.39"/>
<line class="kw" x1="541" y1="293.6" x2="541.27" y2="263.4"/>
<line class="kw" x1="581.2" y1="293.6" x2="581.47" y2="263.4"/>
<line class="l" x1="541" y1="263.4" x2="542.6" y2="263.4"/>
<line class="l" x1="581.2" y1="263.4" x2="579.6" y2="263.4"/>
<path class="l" d="M313.8,165.9 L315,168.1 L327.4,168.19 L328.6,165.99"/>
<path class="l" d="M370.1,166.3 L371.3,168.5 L383.8,168.59 L385,166.39"/>
<path class="l" d="M462.3,166.9 L463.5,169.1 L474.4,169.18 L475.6,166.98"/>
<path class="l" d="M518.2,167.3 L519.4,169.5 L530.8,169.59 L532,167.39"/>
<text class="t" font-size="11.2" text-anchor="middle" textLength="34" lengthAdjust="spacingAndGlyphs" transform="translate(321.8 165.61) scale(.25)">1 OH</text>
<text class="t" font-size="11.2" text-anchor="middle" textLength="63.6" lengthAdjust="spacingAndGlyphs" transform="translate(339 165.72) scale(.25)">2 DOCKS</text>
<text class="t" font-size="11.2" text-anchor="middle" textLength="62.8" lengthAdjust="spacingAndGlyphs" transform="translate(358.9 165.84) scale(.25)">2 DOCKS</text>
<text class="t" font-size="11.2" text-anchor="middle" textLength="35.6" lengthAdjust="spacingAndGlyphs" transform="translate(375.8 165.95) scale(.25)">1 OH</text>
<text class="t" font-size="11.2" text-anchor="middle" textLength="34" lengthAdjust="spacingAndGlyphs" transform="translate(469.6 166.53) scale(.25)">1 OH</text>
<text class="t" font-size="11.2" text-anchor="middle" textLength="66" lengthAdjust="spacingAndGlyphs" transform="translate(486.2 166.63) scale(.25)">2 DOCKS</text>
<text class="t" font-size="11.2" text-anchor="middle" textLength="66" lengthAdjust="spacingAndGlyphs" transform="translate(506.5 166.76) scale(.25)">2 DOCKS</text>
<text class="t" font-size="11.2" text-anchor="middle" textLength="34.8" lengthAdjust="spacingAndGlyphs" transform="translate(523.6 166.86) scale(.25)">1 OH</text>
<path class="l" d="M384.6,292.5 L385.8,290.3 L399,290.4 L400.2,292.6"/>
<path class="l" d="M441.8,292.8 L443,290.6 L455.8,290.69 L457,292.89"/>
<path class="l" d="M524.6,293.3 L525.8,291.1 L539,291.2 L540.2,293.4"/>
<path class="l" d="M581.8,293.7 L583,291.5 L595.8,291.59 L597,293.79"/>
<text class="t" font-size="11.2" text-anchor="middle" textLength="34.8" lengthAdjust="spacingAndGlyphs" transform="translate(393.5 297.22) scale(.25)">1 OH</text>
<text class="t" font-size="11.2" text-anchor="middle" textLength="62" lengthAdjust="spacingAndGlyphs" transform="translate(410.5 297.33) scale(.25)">2 DOCKS</text>
<text class="t" font-size="11.2" text-anchor="middle" textLength="62" lengthAdjust="spacingAndGlyphs" transform="translate(431.5 297.46) scale(.25)">2 DOCKS</text>
<text class="t" font-size="11.2" text-anchor="middle" textLength="34.8" lengthAdjust="spacingAndGlyphs" transform="translate(449.5 297.57) scale(.25)">1 OH</text>
<text class="t" font-size="11.2" text-anchor="middle" textLength="34.8" lengthAdjust="spacingAndGlyphs" transform="translate(533.5 298.09) scale(.25)">1 OH</text>
<text class="t" font-size="11.2" text-anchor="middle" textLength="62" lengthAdjust="spacingAndGlyphs" transform="translate(550.5 298.2) scale(.25)">2 DOCKS</text>
<text class="t" font-size="11.2" text-anchor="middle" textLength="62" lengthAdjust="spacingAndGlyphs" transform="translate(571.5 298.33) scale(.25)">2 DOCKS</text>
<text class="t" font-size="11.2" text-anchor="middle" textLength="34.8" lengthAdjust="spacingAndGlyphs" transform="translate(589.5 298.44) scale(.25)">1 OH</text>
<path class="l" d="M385.4,166.4 L385.6,188 A37.8,20.8 0 0 0 423.4,208.8 A37.8,20.8 0 0 0 461.2,188.6 L461.4,166.9"/>
<text class="t p" font-size="30" text-anchor="middle" textLength="179.2" lengthAdjust="spacingAndGlyphs" transform="translate(423.4 182.7) scale(.25)">PARCEL  C</text>
<text class="t p" font-size="30" text-anchor="middle" textLength="210.4" lengthAdjust="spacingAndGlyphs" transform="translate(423.5 190.8) scale(.25)">9.95  ACRES</text>
<text class="t" font-size="11.2" text-anchor="middle" textLength="134.4" lengthAdjust="spacingAndGlyphs" transform="translate(422.6 194.3) scale(.25)">(INCLUDING R.O.W.)</text>
<rect class="k2" x="415.2" y="199.2" width="15.6" height="8.2"/>
<rect class="st2" x="416.6" y="200.4" width="12.8" height="3.6"/>
<path class="l" d="M385,291.8 C384.98,289.83 384.98,282.97 384.9,280 C384.82,277.03 385.15,276.35 384.5,274 C383.85,271.65 382.93,268.6 381,265.9 C379.07,263.2 376.15,260.1 372.9,257.8 C369.65,255.5 365.68,253.4 361.5,252.1 C357.32,250.8 352.12,249.92 347.8,250 C343.48,250.08 339.25,251.03 335.6,252.6 C331.95,254.17 328.47,256.65 325.9,259.4 C323.33,262.15 321.28,266.13 320.2,269.1 C319.12,272.07 319.27,274.77 319.4,277.2 C319.53,279.63 319.92,280.73 321,283.7 C322.08,286.67 324.13,290.95 325.9,295 C327.67,299.05 329.92,303.17 331.6,308 C333.28,312.83 334.22,317.17 336,324 C337.78,330.83 340.98,342.67 342.3,349 C343.62,355.33 343.45,358.17 343.9,362 C344.35,365.83 344.35,369.08 345,372 C345.65,374.92 346.53,377.53 347.8,379.5 C349.07,381.47 350.8,382.92 352.6,383.8 C354.4,384.68 357.23,384.63 358.6,384.8 C359.97,384.97 360.43,384.8 360.8,384.8"/>
<path class="l" d="M456.7,293.1 C456.7,290.92 456.68,283.45 456.7,280 C456.72,276.55 456.48,274.75 456.8,272.4 C457.12,270.05 457.35,268.2 458.6,265.9 C459.85,263.6 462,260.62 464.3,258.6 C466.6,256.58 469.43,255 472.4,253.8 C475.37,252.6 478.92,251.88 482.1,251.4 C485.28,250.92 488.27,250.9 491.5,250.9 C494.73,250.9 498.2,250.83 501.5,251.4 C504.8,251.97 508.32,252.97 511.3,254.3 C514.28,255.63 517.25,257.33 519.4,259.4 C521.55,261.47 523.2,264.27 524.2,266.7 C525.2,269.13 525.18,271.45 525.4,274 C525.62,276.55 525.48,278.75 525.5,282 C525.52,285.25 525.5,291.58 525.5,293.5"/>
<rect class="k2" x="483.5" y="251.8" width="15.5" height="9.2"/>
<rect class="st2" x="485" y="253.2" width="12.5" height="3.4"/>
<line class="m" x1="349.5" y1="166.2" x2="347.9" y2="249.6"/>
<polygon class="a" points="347.9,250 347.17,247.4 348.63,247.4"/>
<text class="t r" font-size="10.4" textLength="24" lengthAdjust="spacingAndGlyphs" transform="translate(347 214) rotate(-90) scale(.25)">143'</text>
<line class="m" x1="422.4" y1="208" x2="420.7" y2="292.5"/>
<text class="t r" font-size="10.4" textLength="24" lengthAdjust="spacingAndGlyphs" transform="translate(419.3 247) rotate(-90) scale(.25)">143'</text>
<line class="m" x1="496.6" y1="167.3" x2="495.2" y2="292.9"/>
<polygon class="a" points="495.2,293 494.47,290.4 495.93,290.4"/>
<text class="t r" font-size="10.4" textLength="24" lengthAdjust="spacingAndGlyphs" transform="translate(494.3 218) rotate(-90) scale(.25)">143'</text>
<text class="t r" font-size="11.2" textLength="22" lengthAdjust="spacingAndGlyphs" transform="translate(493.9 275.2) rotate(-90) scale(.25)">76'</text>
<line class="m" x1="562.4" y1="167.4" x2="562" y2="293.6"/>
<polygon class="a" points="562.25,209.9 561.58,207.5 562.92,207.5"/>
<polygon class="a" points="562.4,167.3 563.07,169.7 561.73,169.7"/>
<text class="t r" font-size="11.2" textLength="22" lengthAdjust="spacingAndGlyphs" transform="translate(560 191.3) rotate(-90) scale(.25)">76'</text>
<line class="m" x1="303.6" y1="286.2" x2="320.2" y2="281.8"/>
<text class="t r" font-size="11.2" textLength="22" lengthAdjust="spacingAndGlyphs" transform="translate(309.5 282.6) rotate(-15) scale(.25)">24'</text>
<text class="t" font-size="12.4" text-anchor="middle" textLength="137.6" lengthAdjust="spacingAndGlyphs" transform="translate(321.7 226.1) scale(.25)">PROP HEAVY DUTY</text>
<text class="t" font-size="12.4" text-anchor="middle" textLength="70" lengthAdjust="spacingAndGlyphs" transform="translate(321.7 229.6) scale(.25)">PAVEMENT</text>
<text class="t" font-size="12.4" text-anchor="middle" textLength="137.6" lengthAdjust="spacingAndGlyphs" transform="translate(533 226.1) scale(.25)">PROP HEAVY DUTY</text>
<text class="t" font-size="12.4" text-anchor="middle" textLength="70" lengthAdjust="spacingAndGlyphs" transform="translate(532 229.4) scale(.25)">PAVEMENT</text>
<text class="t" font-size="11.2" textLength="224" lengthAdjust="spacingAndGlyphs" transform="translate(430.5 226.5) scale(.25)">PROP HEAVY DUTY CONC PAD</text>
<text class="t" font-size="11.2" textLength="186" lengthAdjust="spacingAndGlyphs" transform="translate(430.5 229.7) scale(.25)">&amp; APRON FOR DUMPSTER</text>
<text class="t" font-size="11.2" textLength="175.2" lengthAdjust="spacingAndGlyphs" transform="translate(430.5 232.9) scale(.25)">ENCLOSURE WITH GATES</text>
<line class="l" x1="474" y1="232.8" x2="489.4" y2="251.5"/>
<line class="l" x1="427.8" y1="207.5" x2="432.6" y2="223.3"/>
<text class="t" font-size="11.2" textLength="139.2" lengthAdjust="spacingAndGlyphs" transform="translate(440.2 243.8) scale(.25)">PROP HEAVY DUTY</text>
<text class="t" font-size="11.2" textLength="125.2" lengthAdjust="spacingAndGlyphs" transform="translate(440.2 246.87) scale(.25)">CONC DOCK WITH</text>
<text class="t" font-size="11.2" textLength="129.6" lengthAdjust="spacingAndGlyphs" transform="translate(440.2 249.94) scale(.25)">RETAINING WALLS</text>
<text class="t" font-size="11.2" textLength="38.8" lengthAdjust="spacingAndGlyphs" transform="translate(440.2 253.01) scale(.25)">(TYP)</text>
<path class="l" d="M447.3,253.8 L447.3,263 C447.2,266.5 445.5,268 442.5,268.8"/>
<polygon class="a" points="441.6,269 443.62,267.94 443.88,269.15"/>
<text class="t" font-size="11.2" textLength="92" lengthAdjust="spacingAndGlyphs" transform="translate(437.5 154) scale(.25)">PROP HEAVY</text>
<text class="t" font-size="11.2" textLength="88" lengthAdjust="spacingAndGlyphs" transform="translate(437.5 157.7) scale(.25)">DUTY CONC.</text>
<text class="t" font-size="11.2" textLength="94" lengthAdjust="spacingAndGlyphs" transform="translate(437.5 161.4) scale(.25)">APRON (TYP)</text>
<line class="l" x1="458.5" y1="160" x2="463.8" y2="166.4"/>
<polygon class="a" points="464,166.8 462.16,165.45 463.13,164.69"/>
<text class="t" font-size="11.2" textLength="137.6" lengthAdjust="spacingAndGlyphs" transform="translate(365.6 212.2) scale(.25)">PROP HEAVY DUTY</text>
<text class="t" font-size="11.2" textLength="121.2" lengthAdjust="spacingAndGlyphs" transform="translate(365.6 215.42) scale(.25)">CONC DOCK WITH</text>
<text class="t" font-size="11.2" textLength="126.4" lengthAdjust="spacingAndGlyphs" transform="translate(365.6 218.64) scale(.25)">RETAINING WALLS</text>
<text class="t" font-size="11.2" textLength="36.8" lengthAdjust="spacingAndGlyphs" transform="translate(365.6 221.86) scale(.25)">(TYP)</text>
<path class="l" d="M373.7,209.6 L373.7,192 L364.8,187.2"/>
<polygon class="a" points="364.4,187 366.64,187.45 366.08,188.55"/>
<text class="t" font-size="11.2" textLength="90" lengthAdjust="spacingAndGlyphs" transform="translate(359.4 303) scale(.25)">PROP HEAVY</text>
<text class="t" font-size="11.2" textLength="86" lengthAdjust="spacingAndGlyphs" transform="translate(359.4 306.45) scale(.25)">DUTY CONC.</text>
<text class="t" font-size="11.2" textLength="94.4" lengthAdjust="spacingAndGlyphs" transform="translate(359.4 309.9) scale(.25)">APRON (TYP)</text>
<line class="l" x1="382.4" y1="300.8" x2="388.4" y2="292.6"/>
<polygon class="a" points="388.6,292.3 387.81,294.44 386.81,293.72"/>
<path class="l" d="M350.6,292.5 L631.5,294.3 L630.8,366.5 L350.0,364.6 Z"/>
<line class="dd" x1="420.7" y1="292.9" x2="419.9" y2="364.9"/>
<line class="dd" x1="490.9" y1="293.4" x2="490.1" y2="365.4"/>
<line class="dd" x1="561.2" y1="293.8" x2="560.4" y2="365.8"/>
<text class="t" font-size="10" text-anchor="middle" textLength="20" lengthAdjust="spacingAndGlyphs" transform="translate(384.5 363.4) scale(.25)">95'</text>
<text class="t" font-size="10" text-anchor="middle" textLength="20" lengthAdjust="spacingAndGlyphs" transform="translate(454.5 363.84) scale(.25)">95'</text>
<text class="t" font-size="10" text-anchor="middle" textLength="20" lengthAdjust="spacingAndGlyphs" transform="translate(524.5 364.27) scale(.25)">95'</text>
<text class="t" font-size="10" text-anchor="middle" textLength="20" lengthAdjust="spacingAndGlyphs" transform="translate(594.5 364.71) scale(.25)">95'</text>
<text class="t r" font-size="11.2" textLength="24" lengthAdjust="spacingAndGlyphs" transform="translate(354.8 332.8) rotate(-90) scale(.25)">150'</text>
<text class="t" font-size="11.2" text-anchor="middle" textLength="112" lengthAdjust="spacingAndGlyphs" transform="translate(455.7 323.2) scale(.25)">PROP BUILDING</text>
<text class="t" font-size="11.2" text-anchor="middle" textLength="124" lengthAdjust="spacingAndGlyphs" transform="translate(455.7 327) scale(.25)">45,600 SF TOTAL</text>
<text class="t" font-size="11.2" text-anchor="middle" textLength="138" lengthAdjust="spacingAndGlyphs" transform="translate(455.7 333.7) scale(.25)">9,120 OFFICE (20%)</text>
<text class="t" font-size="11.2" text-anchor="middle" textLength="192" lengthAdjust="spacingAndGlyphs" transform="translate(455.7 336.9) scale(.25)">36,480 WAREHOUSE (80%)</text>
<line class="l" x1="360.8" y1="374.5" x2="589.8" y2="375.92"/>
<line class="l" x1="360.8" y1="410.2" x2="589.8" y2="411.62"/>
<line class="l" x1="368.15" y1="374.54" x2="368.06" y2="385.04"/>
<line class="l" x1="368.15" y1="399.74" x2="368.06" y2="410.24"/>
<line class="l" x1="375.49" y1="374.59" x2="375.4" y2="385.09"/>
<line class="l" x1="375.49" y1="399.79" x2="375.4" y2="410.29"/>
<line class="l" x1="382.84" y1="374.64" x2="382.75" y2="385.14"/>
<line class="l" x1="382.84" y1="399.84" x2="382.75" y2="410.34"/>
<line class="l" x1="390.19" y1="374.68" x2="390.1" y2="385.18"/>
<line class="l" x1="390.19" y1="399.88" x2="390.1" y2="410.38"/>
<line class="l" x1="397.54" y1="374.73" x2="397.45" y2="385.23"/>
<line class="l" x1="397.54" y1="399.93" x2="397.45" y2="410.43"/>
<line class="l" x1="404.88" y1="374.77" x2="404.79" y2="385.27"/>
<line class="l" x1="404.88" y1="399.97" x2="404.79" y2="410.47"/>
<line class="l" x1="412.23" y1="374.82" x2="412.14" y2="385.32"/>
<line class="l" x1="412.23" y1="400.02" x2="412.14" y2="410.52"/>
<line class="l" x1="419.58" y1="400.06" x2="419.49" y2="410.56"/>
<line class="l" x1="426.92" y1="374.91" x2="426.83" y2="385.41"/>
<line class="l" x1="426.92" y1="400.11" x2="426.83" y2="410.61"/>
<line class="l" x1="434.27" y1="374.95" x2="434.18" y2="385.45"/>
<line class="l" x1="434.27" y1="400.15" x2="434.18" y2="410.65"/>
<line class="l" x1="441.62" y1="375" x2="441.53" y2="385.5"/>
<line class="l" x1="441.62" y1="400.2" x2="441.53" y2="410.7"/>
<line class="l" x1="448.96" y1="375.05" x2="448.87" y2="385.55"/>
<line class="l" x1="448.96" y1="400.25" x2="448.87" y2="410.75"/>
<line class="l" x1="456.31" y1="375.09" x2="456.22" y2="385.59"/>
<line class="l" x1="456.31" y1="400.29" x2="456.22" y2="410.79"/>
<line class="l" x1="463.66" y1="375.14" x2="463.57" y2="385.64"/>
<line class="l" x1="463.66" y1="400.34" x2="463.57" y2="410.84"/>
<line class="l" x1="471" y1="375.18" x2="470.92" y2="385.68"/>
<line class="l" x1="471" y1="400.38" x2="470.92" y2="410.88"/>
<line class="l" x1="478.35" y1="375.23" x2="478.26" y2="385.73"/>
<line class="l" x1="478.35" y1="400.43" x2="478.26" y2="410.93"/>
<line class="l" x1="485.7" y1="375.27" x2="485.61" y2="385.77"/>
<line class="l" x1="485.7" y1="400.47" x2="485.61" y2="410.97"/>
<line class="l" x1="493.05" y1="375.32" x2="492.96" y2="385.82"/>
<line class="l" x1="493.05" y1="400.52" x2="492.96" y2="411.02"/>
<line class="l" x1="500.39" y1="375.36" x2="500.3" y2="385.86"/>
<line class="l" x1="500.39" y1="400.56" x2="500.3" y2="411.06"/>
<line class="l" x1="589.8" y1="375.92" x2="589.71" y2="386.42"/>
<line class="l" x1="589.8" y1="401.12" x2="589.71" y2="411.62"/>
<line class="l" x1="582.39" y1="375.87" x2="582.3" y2="386.37"/>
<line class="l" x1="582.39" y1="401.07" x2="582.3" y2="411.57"/>
<line class="l" x1="574.98" y1="375.83" x2="574.89" y2="386.33"/>
<line class="l" x1="574.98" y1="401.03" x2="574.89" y2="411.53"/>
<line class="l" x1="567.57" y1="375.78" x2="567.48" y2="386.28"/>
<line class="l" x1="567.57" y1="400.98" x2="567.48" y2="411.48"/>
<line class="l" x1="560.16" y1="375.73" x2="560.07" y2="386.23"/>
<line class="l" x1="560.16" y1="400.93" x2="560.07" y2="411.43"/>
<line class="l" x1="552.75" y1="400.89" x2="552.66" y2="411.39"/>
<line class="l" x1="545.34" y1="375.64" x2="545.25" y2="386.14"/>
<line class="l" x1="545.34" y1="400.84" x2="545.25" y2="411.34"/>
<line class="l" x1="537.93" y1="375.6" x2="537.84" y2="386.1"/>
<line class="l" x1="537.93" y1="400.8" x2="537.84" y2="411.3"/>
<line class="l" x1="530.52" y1="375.55" x2="530.43" y2="386.05"/>
<line class="l" x1="530.52" y1="400.75" x2="530.43" y2="411.25"/>
<line class="l" x1="523.11" y1="375.51" x2="523.02" y2="386.01"/>
<line class="l" x1="523.11" y1="400.71" x2="523.02" y2="411.21"/>
<line class="l" x1="515.7" y1="375.46" x2="515.61" y2="385.96"/>
<line class="l" x1="515.7" y1="400.66" x2="515.61" y2="411.16"/>
<line class="l" x1="508.29" y1="375.41" x2="508.2" y2="385.91"/>
<line class="l" x1="508.29" y1="400.61" x2="508.2" y2="411.11"/>
<line class="l" x1="360.8" y1="374.5" x2="360.7" y2="384.7"/>
<line class="l" x1="360.8" y1="399.7" x2="360.7" y2="410.2"/>
<path class="hc" d="M415,379.2v1.6h1.3M414.4,381a1,1 0 1 0 1.6,0.6"/>
<path class="hc" d="M430.8,379.3v1.6h1.3M430.2,381.1a1,1 0 1 0 1.6,0.6"/>
<path class="hc" d="M562.6,380.2v1.6h1.3M562,382a1,1 0 1 0 1.6,0.6"/>
<rect x="419.6" y="375.16" width="7.4" height="10.4" fill="url(#hz)" stroke="#111" stroke-width="0.9"/>
<rect x="552.6" y="375.99" width="7.4" height="10.4" fill="url(#hz)" stroke="#111" stroke-width="0.9"/>
<line class="k2" x1="506.4" y1="365.6" x2="506" y2="410.6"/>
<text class="t r" font-size="11.2" textLength="15.2" lengthAdjust="spacingAndGlyphs" transform="translate(504.4 371) rotate(-90) scale(.25)">9'</text>
<text class="t r" font-size="11.2" textLength="15.2" lengthAdjust="spacingAndGlyphs" transform="translate(504.4 382.4) rotate(-90) scale(.25)">18'</text>
<text class="t r" font-size="11.2" textLength="15.2" lengthAdjust="spacingAndGlyphs" transform="translate(504.4 395.4) rotate(-90) scale(.25)">24'</text>
<text class="t r" font-size="11.2" textLength="15.2" lengthAdjust="spacingAndGlyphs" transform="translate(504.4 406.6) rotate(-90) scale(.25)">18'</text>
<text class="t" font-size="13.2" textLength="254" lengthAdjust="spacingAndGlyphs" transform="translate(430.8 393.9) scale(.25)">PROP STANDARD DUTY PAVEMENT</text>
<path class="l" d="M360.8,399.5 L354.8,399.4 C351.5,399.6 349.6,401 349.4,404 L349.4,412.2"/>
<path class="hb" d="M349.4,412.2 C349.8,416.5 351.2,420.5 353.4,423.5"/>
<line class="m" x1="324.8" y1="411.9" x2="349" y2="412"/>
<text class="t" font-size="11.2" textLength="22" lengthAdjust="spacingAndGlyphs" transform="translate(334.5 410.4) scale(.25)">24'</text>
<path class="l" d="M589.7,375.6 L589.7,385 L589.8,385 C591.9,385.13 598.68,385.27 602.4,385.8 C606.12,386.33 608.87,386.72 612.1,388.2 C615.33,389.68 619.1,392.27 621.8,394.7 C624.5,397.13 626.73,400.1 628.3,402.8 C629.87,405.5 630.7,409.03 631.2,410.9 C631.7,412.77 631.28,413.48 631.3,414"/>
<path class="hb" d="M631.2,414.2 C630.9,417 631.8,420.5 633.2,423.5"/>
<path class="l" d="M589.8,410.9 L589.8,402.8 C589.9,401.3 590.6,400.7 591.9,400.7 L600.8,400.7 C603.5,400.9 605.5,402 607.2,403.6 C609.4,405.3 611,407.2 612.1,409.3 C613.3,411 614.2,412.6 614.5,414.1"/>
<path class="hb" d="M614.4,414.4 C614.3,417.5 612.6,420.8 610.5,423.5"/>
<line class="m" x1="614.5" y1="414.1" x2="631.2" y2="414.2"/>
<text class="t" font-size="11.2" textLength="22" lengthAdjust="spacingAndGlyphs" transform="translate(619.4 412.7) scale(.25)">24'</text>
<text class="t r" font-size="11.2" textLength="76" lengthAdjust="spacingAndGlyphs" transform="translate(333.4 389.2) rotate(-90) scale(.25)">PROP HEAVY</text>
<text class="t r" font-size="11.2" textLength="96" lengthAdjust="spacingAndGlyphs" transform="translate(338.1 391.4) rotate(-90) scale(.25)">DUTY PAVEMENT</text>
<line class="m" x1="631" y1="366.9" x2="674.5" y2="367.1"/>
<text class="t" font-size="11.2" text-anchor="middle" textLength="22.4" lengthAdjust="spacingAndGlyphs" transform="translate(660.2 366) scale(.25)">60'</text>
<line class="l" x1="648.3" y1="54" x2="648.5" y2="54"/>
<path class="thin" d="M648,54.6 C656,58 661,62 661.2,68 L660.2,120 L658.3,180 L655.5,219.5 L654.2,250 L653.2,290 L653.2,330"/>
<path class="dt" d="M653.2,326 L650.8,423.5"/>
<path class="dt" d="M664.3,54.6 L662.7,120 L661.1,180 L657.5,219.5 L657.3,250 L656,300 L653.6,328"/>
<line class="k" x1="687" y1="54.4" x2="672.4" y2="423.5"/>
<line class="thin" x1="685.3" y1="54.5" x2="678" y2="120"/>
<line class="l" x1="672.5" y1="422.9" x2="709.5" y2="415.3"/>
<line class="l" x1="680" y1="241.9" x2="686.9" y2="241.9"/>
<text class="t n" font-size="20" textLength="196" lengthAdjust="spacingAndGlyphs" transform="translate(687.8 228.3) rotate(-90) scale(.25)">S89°15'48&quot;E  658.00'</text>
<line class="m" x1="640.8" y1="263.5" x2="678.3" y2="263.6"/>
<text class="t" font-size="11.2" text-anchor="middle" textLength="26" lengthAdjust="spacingAndGlyphs" transform="translate(666.7 258.3) scale(.25)">50'</text>
<text class="t" font-size="11.2" text-anchor="middle" textLength="74.8" lengthAdjust="spacingAndGlyphs" transform="translate(666.7 261.8) scale(.25)">SETBACK</text>
<text class="t r" font-size="11.2" textLength="107.2" lengthAdjust="spacingAndGlyphs" transform="translate(615.8 281.6) rotate(-90) scale(.25)">BOTTOM OF SLOPE</text>
<line class="l" x1="616.2" y1="277.8" x2="637.7" y2="282.1"/>
<text class="t r" font-size="11.2" textLength="86.4" lengthAdjust="spacingAndGlyphs" transform="translate(622.2 268.8) rotate(-90) scale(.25)">TOP OF SLOPE</text>
<line class="l" x1="623" y1="267.6" x2="652.4" y2="271.4"/>
<circle class="dc" cx="677.6" cy="92.4" r="6.5"/>
<ellipse class="dc" cx="678" cy="107.8" rx="13.6" ry="9.4"/>
<circle class="dot" cx="679" cy="91.5" r="0.6"/>
<circle class="dot" cx="677" cy="95" r="0.6"/>
<circle class="dot" cx="678" cy="107" r="0.6"/>
<text class="t" font-size="10.4" textLength="62" lengthAdjust="spacingAndGlyphs" transform="translate(689.4 90.6) scale(.25)">10&quot;HICKORY</text>
<text class="t" font-size="10.4" textLength="62" lengthAdjust="spacingAndGlyphs" transform="translate(689.4 97.1) scale(.25)">10&quot;HICKORY</text>
<text class="t" font-size="10.4" textLength="68" lengthAdjust="spacingAndGlyphs" transform="translate(694.3 110.5) scale(.25)">14&quot;TULIPPOPLAR</text>
<line class="l" x1="691" y1="109.3" x2="694" y2="109.5"/>
<text class="t" font-size="11.2" textLength="64.4" lengthAdjust="spacingAndGlyphs" transform="translate(653.9 120.4) scale(.25)">18&quot;HICKORY</text>
<text class="t" font-size="11.2" textLength="64.4" lengthAdjust="spacingAndGlyphs" transform="translate(653.9 150.2) scale(.25)">30&quot;HICKORY</text>
<line class="l" x1="679" y1="129.2" x2="689" y2="131"/>
<text class="t" font-size="10.4" textLength="54.4" lengthAdjust="spacingAndGlyphs" transform="translate(689.4 132) scale(.25)">ELEC. BOX</text>
<path class="l" d="M679,128.5 L677,133.3 L677,141.7 L680.5,146"/>
<circle class="dc" cx="677" cy="159.7" r="11"/>
<circle class="dot" cx="675.5" cy="158" r="0.6"/>
<circle class="dot" cx="679.7" cy="158.9" r="0.6"/>
<line class="l" x1="679.7" y1="158.9" x2="693.6" y2="157"/>
<text class="t" font-size="11.2" textLength="64.4" lengthAdjust="spacingAndGlyphs" transform="translate(695.6 157.4) scale(.25)">18&quot;HICKORY</text>
<text class="t" font-size="11.2" textLength="64.4" lengthAdjust="spacingAndGlyphs" transform="translate(695.6 168.5) scale(.25)">18&quot;HICKORY</text>
<line class="l" x1="680.3" y1="198" x2="692" y2="198.1"/>
<text class="t" font-size="11.2" textLength="74.4" lengthAdjust="spacingAndGlyphs" transform="translate(692.4 199.1) scale(.25)">METAL FENCE</text>
<line class="thin" x1="677.8" y1="165" x2="678.6" y2="200"/>
<circle class="dc" cx="681.7" cy="270.4" r="5"/>
<circle class="dot" cx="681.7" cy="270.4" r="0.6"/>
<text class="t" font-size="10" textLength="70" lengthAdjust="spacingAndGlyphs" transform="translate(689.6 276.4) scale(.25)">8&quot;MULBERRY</text>
<circle class="dc" cx="676" cy="300" r="13"/>
<circle class="dot" cx="676" cy="300" r="0.6"/>
<text class="t" font-size="10" textLength="64.4" lengthAdjust="spacingAndGlyphs" transform="translate(693.7 298.5) scale(.25)">30&quot;HICKORY</text>
<circle class="ring" cx="676" cy="314.6" r="3.9"/>
<circle class="dot" cx="676" cy="314.6" r="0.7"/>
<text class="t" font-size="11.2" textLength="38" lengthAdjust="spacingAndGlyphs" transform="translate(684.4 316.6) scale(.25)">8&quot;PINE</text>
<circle class="ring" cx="678.7" cy="324" r="3.9"/>
<circle class="dot" cx="678.7" cy="324" r="0.7"/>
<text class="t" font-size="11.2" textLength="38" lengthAdjust="spacingAndGlyphs" transform="translate(686.5 325) scale(.25)">8&quot;PINE</text>
<circle class="ring" cx="677.2" cy="328.3" r="3.9"/>
<circle class="dot" cx="677.2" cy="328.3" r="0.7"/>
<text class="t" font-size="11.2" textLength="38" lengthAdjust="spacingAndGlyphs" transform="translate(686.5 333.3) scale(.25)">8&quot;PINE</text>
<circle class="ring" cx="680.8" cy="350.8" r="3.9"/>
<circle class="dot" cx="680.8" cy="350.8" r="0.7"/>
<text class="t" font-size="11.2" textLength="38" lengthAdjust="spacingAndGlyphs" transform="translate(688 354.5) scale(.25)">6&quot;PINE</text>
<circle class="ring" cx="678.8" cy="361.5" r="3.9"/>
<circle class="dot" cx="678.8" cy="361.5" r="0.7"/>
<text class="t" font-size="11.2" textLength="38" lengthAdjust="spacingAndGlyphs" transform="translate(685.8 364.5) scale(.25)">8&quot;PINE</text>
<circle class="ring" cx="674.5" cy="410.3" r="3.9"/>
<circle class="dot" cx="674.5" cy="410.3" r="0.7"/>
<text class="t" font-size="11.2" textLength="38" lengthAdjust="spacingAndGlyphs" transform="translate(685 410) scale(.25)">8&quot;PINE</text>
<circle class="dc" cx="677" cy="391" r="12.5"/>
<circle class="dot" cx="677" cy="391" r="0.6"/>
<text class="t" font-size="10" textLength="64.4" lengthAdjust="spacingAndGlyphs" transform="translate(690.8 383) scale(.25)">30&quot;HICKORY</text>
<line class="thin" x1="441" y1="422.6" x2="444" y2="422.6"/>
<line class="thin" x1="208" y1="423" x2="211" y2="423"/>
</svg>
</body>
</html>
